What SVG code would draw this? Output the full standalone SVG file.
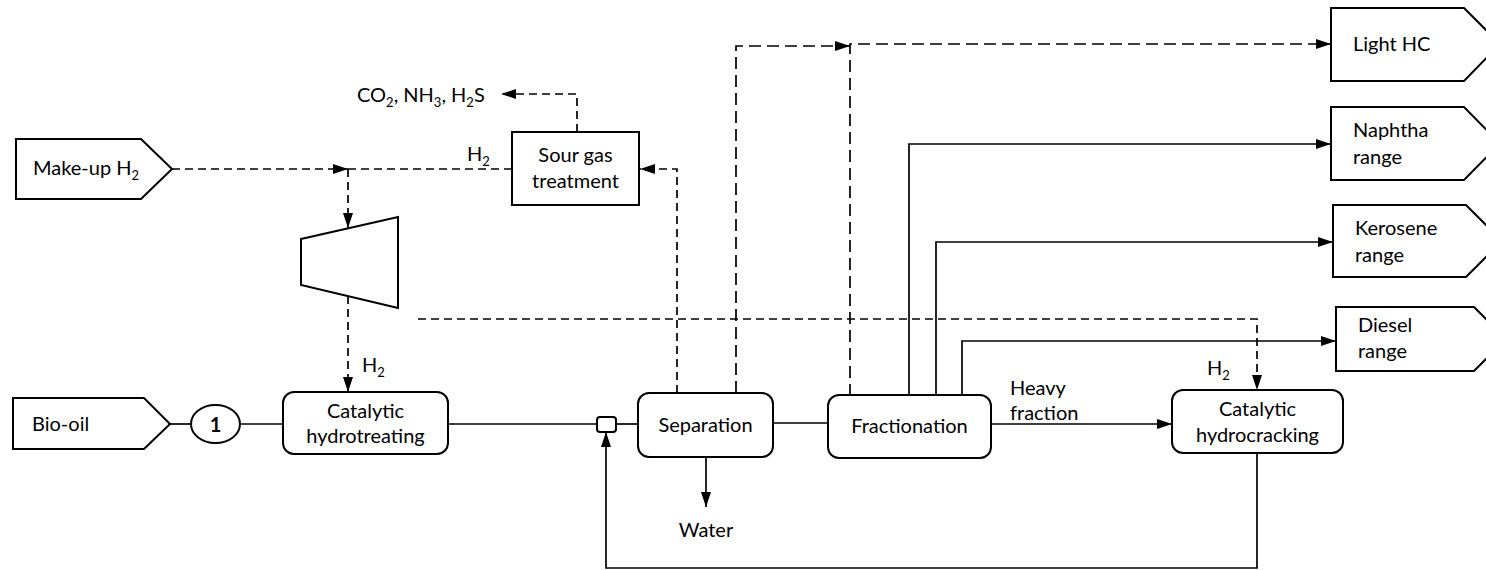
<svg xmlns="http://www.w3.org/2000/svg" width="1486" height="570" viewBox="0 0 1486 570">
  <style>
    text { font-family: Lato, "Open Sans", "Liberation Sans", sans-serif; font-size: 20px; fill: #000; }
    .c { text-anchor: middle; }
    .box { fill: #fff; stroke: #000; stroke-width: 2; }
    .ln { fill: none; stroke: #000; stroke-width: 1.7; }
    .ds { fill: none; stroke: #000; stroke-width: 1.7; stroke-dasharray: 8 5; }
    .dl { fill: none; stroke: #000; stroke-width: 1.7; stroke-dasharray: 12 6; }
    .sub { font-size: 13px; }
  </style>
  <defs>
    <marker id="arr" markerUnits="userSpaceOnUse" markerWidth="16" markerHeight="11" refX="15" refY="5" orient="auto">
      <path d="M0,0 L15,5 L0,10 z" fill="#000"/>
    </marker>
  </defs>

  <rect width="1486" height="570" fill="#fff"/>

  <!-- connectors -->
  <g id="connectors">
    <!-- hydrogen loop -->
    <path class="ds" d="M172,169 H348" marker-end="url(#arr)"/>
    <path class="ds" d="M512,169 H348"/>
    <path class="ds" d="M348,169 V228" marker-end="url(#arr)"/>
    <path class="ds" d="M348,296 V392" marker-end="url(#arr)"/>
    <path class="ds" d="M418,319 H1257 V390" marker-end="url(#arr)"/>
    <path class="ds" d="M677,393 V169 H640" marker-end="url(#arr)"/>
    <path class="ds" d="M577,132 V94 H501" marker-end="url(#arr)"/>
    <!-- light hydrocarbons -->
    <path class="dl" d="M736,393 V46 H850" marker-end="url(#arr)"/>
    <path class="dl" d="M850,396 V44 H1331" marker-end="url(#arr)"/>
    <!-- main liquid line -->
    <path class="ln" d="M170,424 H191"/>
    <path class="ln" d="M240,424 H283"/>
    <path class="ln" d="M448,424 H597"/>
    <path class="ln" d="M616,424 H638"/>
    <path class="ln" d="M773,423 H828"/>
    <path class="ln" d="M706,457 V507" marker-end="url(#arr)"/>
    <path class="ln" d="M991,424 H1172" marker-end="url(#arr)"/>
    <!-- product cuts -->
    <path class="ln" d="M909,395 V144 H1331" marker-end="url(#arr)"/>
    <path class="ln" d="M936,395 V242 H1333" marker-end="url(#arr)"/>
    <path class="ln" d="M962,395 V341 H1336" marker-end="url(#arr)"/>
    <!-- recycle -->
    <path class="ln" d="M1257,453 V568 H606 V432" marker-end="url(#arr)"/>
  </g>

  <!-- feeds -->
  <g id="makeup-h2">
    <path class="box" d="M16,139 H141 L172,169 L141,199 H16 Z"/>
    <text x="33" y="175">Make-up H<tspan class="sub" dy="5">2</tspan></text>
  </g>
  <g id="bio-oil">
    <path class="box" d="M13,398 H144 L170,424 L144,449 H13 Z"/>
    <text x="32" y="431">Bio-oil</text>
  </g>
  <g id="pump-1">
    <ellipse class="box" cx="215.5" cy="424" rx="24.5" ry="19"/>
    <text class="c" x="215.5" y="432" font-size="22" font-weight="bold">1</text>
  </g>

  <!-- process units -->
  <g id="hydrotreating">
    <rect class="box" x="283" y="392" width="165" height="62" rx="11"/>
    <text class="c" x="365.5" y="418">Catalytic</text>
    <text class="c" x="365.5" y="443">hydrotreating</text>
  </g>
  <g id="compressor">
    <path class="box" d="M301,239 L398,217 L398,308 L301,285 Z"/>
  </g>
  <g id="sour-gas">
    <rect class="box" x="512" y="132" width="127" height="73"/>
    <text class="c" x="575.5" y="162">Sour gas</text>
    <text class="c" x="575.5" y="188">treatment</text>
  </g>
  <g id="mixer">
    <rect class="box" x="597" y="417" width="19" height="15" rx="3"/>
  </g>
  <g id="separation">
    <rect class="box" x="638" y="393" width="135" height="64" rx="11"/>
    <text class="c" x="705.5" y="432">Separation</text>
  </g>
  <g id="fractionation">
    <rect class="box" x="828" y="395" width="163" height="63" rx="11"/>
    <text class="c" x="909.5" y="433">Fractionation</text>
  </g>
  <g id="hydrocracking">
    <rect class="box" x="1172" y="390" width="171" height="63" rx="11"/>
    <text class="c" x="1257.5" y="416">Catalytic</text>
    <text class="c" x="1257.5" y="442">hydrocracking</text>
  </g>

  <!-- products -->
  <g id="light-hc">
    <path class="box" d="M1331,8 H1464 L1500,44 L1464,81 H1331 Z"/>
    <text x="1353" y="51">Light HC</text>
  </g>
  <g id="naphtha">
    <path class="box" d="M1331,107 H1464 L1500,143.5 L1464,180 H1331 Z"/>
    <text x="1353" y="137">Naphtha</text>
    <text x="1353" y="164">range</text>
  </g>
  <g id="kerosene">
    <path class="box" d="M1333,205 H1466 L1502,241 L1466,277 H1333 Z"/>
    <text x="1355" y="235">Kerosene</text>
    <text x="1355" y="262">range</text>
  </g>
  <g id="diesel">
    <path class="box" d="M1336,307 H1474 L1506,339 L1474,371 H1336 Z"/>
    <text x="1358" y="332">Diesel</text>
    <text x="1358" y="358">range</text>
  </g>

  <!-- stream labels -->
  <g id="labels">
    <text x="357" y="102">CO<tspan class="sub" dy="5">2</tspan><tspan dy="-5">, NH</tspan><tspan class="sub" dy="5">3</tspan><tspan dy="-5">, H</tspan><tspan class="sub" dy="5">2</tspan><tspan dy="-5">S</tspan></text>
    <text x="467" y="161">H<tspan class="sub" dy="5">2</tspan></text>
    <text x="362" y="372">H<tspan class="sub" dy="5">2</tspan></text>
    <text x="1207" y="375">H<tspan class="sub" dy="5">2</tspan></text>
    <text x="1010" y="395">Heavy</text>
    <text x="1010" y="420">fraction</text>
    <text class="c" x="706" y="537">Water</text>
  </g>
</svg>
